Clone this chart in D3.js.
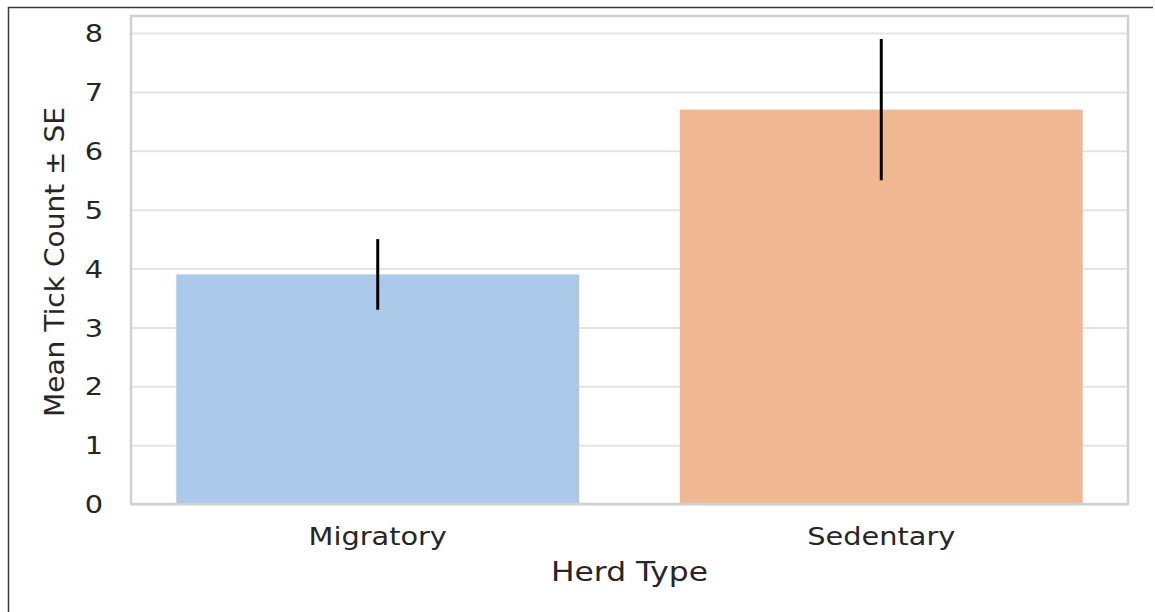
<!DOCTYPE html>
<html>
<head>
<meta charset="utf-8">
<script src="https://cdn.jsdelivr.net/npm/d3@7"></script>
<style>
  body { margin: 0; background: #fff; }
  text { font-family: "DejaVu Sans", sans-serif; fill: #262626; }
</style>
</head>
<body>
<svg class="chart" width="1155" height="612"></svg>
<script>
// data
var herdTypes = ["Migratory", "Sedentary"];
var meanTicks = [3.9, 6.7];
var seTicks = [0.6, 1.2];
var barColors = ["#abc9e9", "#efb792"];
var yTicks = [0, 1, 2, 3, 4, 5, 6, 7, 8];

var svg = d3.select(".chart"),
    margin = {top: 16, right: 27, bottom: 108, left: 131},
    width = +svg.attr("width") - margin.left - margin.right,
    height = +svg.attr("height") - margin.top - margin.bottom;

var stretch = 1.2; // glyphs in the reference are wider than plain DejaVu

// outer frame (top + left only, like the screenshot)
svg.append("path")
    .attr("d", "M8.5,612V7.5H1153")
    .attr("fill", "none")
    .attr("stroke", "#3a3a3a")
    .attr("stroke-width", 1.5);

var g = svg.append("g").attr("transform", "translate(" + margin.left + "," + margin.top + ")");

var x = d3.scaleBand().domain(herdTypes).range([0, width]).paddingInner(0.2).paddingOuter(0.09);
var y = d3.scaleLinear().domain([0, 8.29]).range([height, 0]);

var data = herdTypes.map(function(d, i) {
  return {type: d, mean: meanTicks[i], se: seTicks[i], color: barColors[i]};
});

// gridlines
g.append("g")
    .attr("class", "grid")
    .call(d3.axisLeft(y).tickValues(yTicks).tickSize(-width).tickFormat(""))
    .call(function(s) {
      s.select(".domain").remove();
      s.selectAll(".tick line").attr("stroke", "#e3e3e3").attr("stroke-width", 2);
    });

// bars
g.selectAll(".bar")
    .data(data)
  .enter().append("rect")
    .attr("class", "bar")
    .attr("x", function(d) { return x(d.type); })
    .attr("y", function(d) { return y(d.mean); })
    .attr("width", x.bandwidth())
    .attr("height", function(d) { return y(0) - y(d.mean); })
    .attr("fill", function(d) { return d.color; });

// error bars
g.selectAll(".err")
    .data(data)
  .enter().append("line")
    .attr("class", "err")
    .attr("x1", function(d) { return x(d.type) + x.bandwidth() / 2; })
    .attr("x2", function(d) { return x(d.type) + x.bandwidth() / 2; })
    .attr("y1", function(d) { return y(d.mean + d.se); })
    .attr("y2", function(d) { return y(d.mean - d.se); })
    .attr("stroke", "#000")
    .attr("stroke-width", 3);

// frame
g.append("rect")
    .attr("width", width)
    .attr("height", height)
    .attr("fill", "none")
    .attr("stroke", "#d0d0d0")
    .attr("stroke-width", 2.5);

// y axis
g.append("g")
    .attr("class", "y axis")
    .call(d3.axisLeft(y).tickValues(yTicks).tickSize(0).tickFormat(d3.format("d")))
    .call(function(s) {
      s.select(".domain").remove();
      s.selectAll(".tick text")
          .attr("x", -28 / stretch)
          .attr("dy", "0.36em")
          .attr("transform", "scale(" + stretch + ",1)")
          .style("font-size", "24px")
          .attr("fill", "#262626");
    });

// x axis
g.append("g")
    .attr("class", "x axis")
    .attr("transform", "translate(0," + height + ")")
    .call(d3.axisBottom(x).tickSize(0))
    .call(function(s) {
      s.select(".domain").remove();
      s.selectAll(".tick text")
          .attr("y", 41)
          .attr("dy", 0)
          .attr("transform", "scale(" + stretch + ",1)")
          .style("font-size", "24px")
          .attr("fill", "#262626");
    });

// axis titles
svg.append("text")
    .attr("x", margin.left + width / 2)
    .attr("y", 581)
    .attr("text-anchor", "middle")
    .attr("textLength", 157)
    .attr("lengthAdjust", "spacingAndGlyphs")
    .style("font-size", "26px")
    .text("Herd Type");

svg.append("text")
    .attr("transform", "translate(64," + (margin.top + height / 2 + 2) + ") rotate(-90)")
    .attr("text-anchor", "middle")
    .attr("textLength", 310)
    .attr("lengthAdjust", "spacingAndGlyphs")
    .style("font-size", "27px")
    .text("Mean Tick Count ± SE");
</script>
</body>
</html>
